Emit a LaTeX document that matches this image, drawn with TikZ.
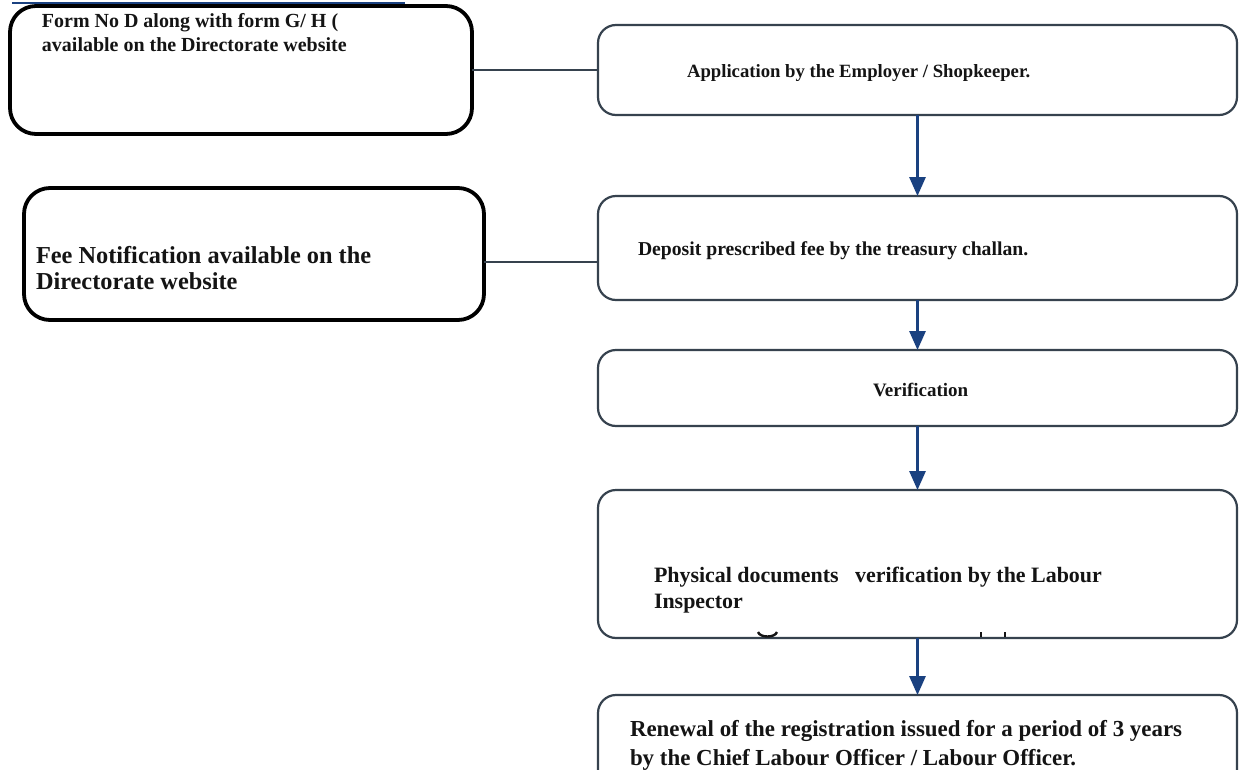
\documentclass[tikz,border=0pt]{standalone}
\usepackage{fontspec}
\setmainfont{Liberation Serif}
\usetikzlibrary{arrows.meta}
\newdimen\upx \upx=0.025cm
\definecolor{boxline}{HTML}{36424E}
\definecolor{navy}{HTML}{1A4180}
\definecolor{ink}{HTML}{141414}
\newcommand{\fs}[1]{\fontsize{#1}{1.2\dimexpr#1\relax}\selectfont\bfseries}
\begin{document}
\begin{tikzpicture}[x=0.025cm,y=-0.025cm,
  flowbox/.style={draw=boxline, line width=2.2\upx, rounded corners=18\upx,
    inner sep=0pt, outer sep=0pt, fill=white},
  notebox/.style={draw=black, line width=3.8\upx, rounded corners=26\upx,
    inner sep=0pt, outer sep=0pt, fill=white},
  txt/.style={anchor=base west, inner sep=0pt, outer sep=0pt, text=ink},
  flowarrow/.style={draw=navy, line width=2.4\upx,
    -{Triangle[width=11.5pt,length=13.5pt]}},
  link/.style={draw=boxline, line width=2.2\upx},
  stub/.style={draw=ink, line width=2.4\upx}
]
\useasboundingbox (0,0) rectangle (1239,770);
\clip (0,0) rectangle (1239,770);
\fill[white] (0,0) rectangle (1239,770);

% side notes
\node[notebox, minimum width=462\upx, minimum height=128\upx] (form) at (241,70) {};
\draw[navy, line width=2\upx] (12,3) -- (405,3);
\node[notebox, minimum width=460\upx, minimum height=132\upx] (fee) at (254,254) {};

% main flow
\node[flowbox, minimum width=639\upx, minimum height=90\upx]  (app) at (917.5,70) {};
\node[flowbox, minimum width=639\upx, minimum height=104\upx] (dep) at (917.5,248) {};
\node[flowbox, minimum width=639\upx, minimum height=76\upx]  (ver) at (917.5,388) {};
\node[flowbox, minimum width=639\upx, minimum height=148\upx] (phy) at (917.5,564) {};
\node[flowbox, minimum width=639\upx, minimum height=110\upx] (ren) at (917.5,750) {};

% texts
\node[txt, font=\fs{14.2pt}] (form1) at (42,27) {Form No D along with form G/ H (};
\node[txt, font=\fs{14.2pt}] (form2) at (42,51) {available on the Directorate website};
\node[txt, font=\fs{17.3pt}] (fee1) at (36,263) {Fee Notification available on the};
\node[txt, font=\fs{17.3pt}] (fee2) at (36,289) {Directorate website};
\node[txt, font=\fs{13.3pt}] (app1) at (687,77) {Application by the Employer / Shopkeeper.};
\node[txt, font=\fs{14pt}] (dep1) at (638,255) {Deposit prescribed fee by the treasury challan.};
\node[txt, font=\fs{13.5pt}] (ver1) at (873,396) {Verification};
\node[txt, font=\fs{15.6pt}] (phy1) at (654,582) {Physical documents\ \ \ verification by the Labour};
\node[txt, font=\fs{15.6pt}] (phy2) at (654,608) {Inspector};
\node[txt, font=\fs{16.3pt}] (ren1) at (630,736) {Renewal of the registration issued for a period of 3 years};
\node[txt, font=\fs{16.3pt}] (ren2) at (630,765) {by the Chief Labour Officer / Labour Officer.};

% glyph stubs along the lower edge of the inspection box
\coordinate (s1) at (758,632);
\coordinate (s2) at (777,632);
\draw[stub] (s1) .. controls (760,638) and (775,638) .. (s2);
\draw[stub] (981,632) -- (981,637);
\draw[stub] (1005,632) -- (1005,637);

% connectors
\draw[link] (form.east) -- (app.west);
\draw[link] (fee.east |- 0,262) -- (dep.west |- 0,262);
\draw[flowarrow] (app.south) -- (dep.north);
\draw[flowarrow] (dep.south) -- (ver.north);
\draw[flowarrow] (ver.south) -- (phy.north);
\draw[flowarrow] (phy.south) -- (ren.north);
\end{tikzpicture}
\end{document}
